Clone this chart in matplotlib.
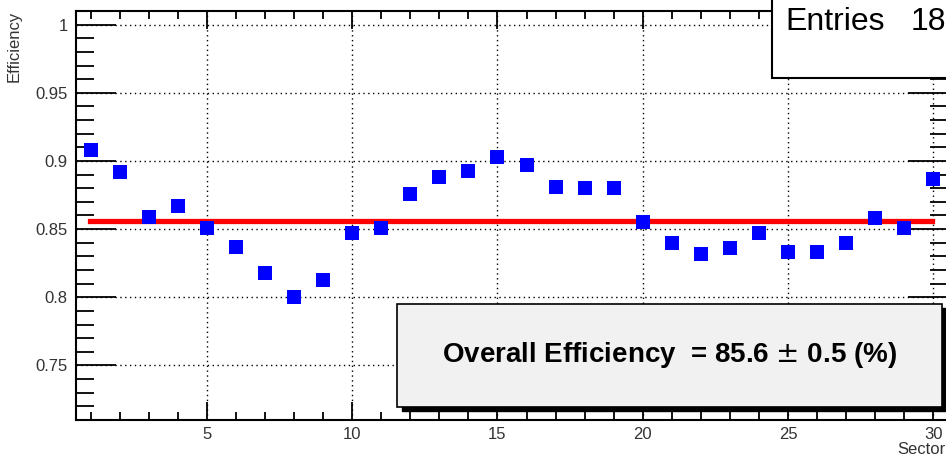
import numpy as np
import matplotlib.pyplot as plt
from matplotlib.patches import Rectangle
from matplotlib.ticker import MultipleLocator

plt.rcParams['font.family'] = ['Liberation Sans', 'DejaVu Sans']

# efficiency per sector
sectors = np.arange(1, 31)
efficiency = [0.908, 0.892, 0.859, 0.867, 0.851, 0.837, 0.818, 0.800, 0.813, 0.847,
              0.851, 0.876, 0.888, 0.893, 0.903, 0.897, 0.881, 0.880, 0.880, 0.855,
              0.840, 0.832, 0.836, 0.847, 0.833, 0.833, 0.840, 0.858, 0.851, 0.887]
overall = 85.6
overall_err = 0.5
fit_range = [0.98, 29.95]

fig = plt.figure(figsize=(9.46, 4.59), dpi=100)
ax = fig.add_axes([76 / 946, 39 / 459, 872 / 946, 409 / 459])

ax.set_xlim(0.5, 30.5)
ax.set_ylim(0.71, 1.01)

ax.grid(True, which='major', color='black', linestyle=(0, (1, 2.5)), linewidth=1.0)
ax.set_axisbelow(True)

ax.plot(fit_range, [overall / 100] * 2, color='red', linewidth=3.8, zorder=3)
ax.plot(sectors, efficiency, linestyle='none', marker='s', markersize=9.5,
        color='blue', markeredgewidth=0, zorder=4)

ax.xaxis.set_major_locator(MultipleLocator(5))
ax.xaxis.set_minor_locator(MultipleLocator(1))
ax.yaxis.set_minor_locator(MultipleLocator(0.01))
ax.set_yticks([0.75, 0.8, 0.85, 0.9, 0.95, 1.0])
ax.set_yticklabels(['0.75', '0.8', '0.85', '0.9', '0.95', '1'])

ax.tick_params(axis='both', which='both', direction='in', top=True, right=True,
               colors='black', labelsize=12, width=1.3)
ax.tick_params(axis='both', which='major', labelcolor='#333333')
ax.tick_params(axis='x', which='major', length=13, pad=5)
ax.tick_params(axis='x', which='minor', length=6)
ax.tick_params(axis='y', which='major', length=29, pad=6)
ax.tick_params(axis='y', which='minor', length=13)
for s in ax.spines.values():
    s.set_linewidth(1.5)

# axis titles, ROOT style (aligned to the axis ends)
fig.text(14 / 946, 1 - 46 / 459, 'Efficiency', rotation=90, ha='center', va='center',
         fontsize=12, color='#333333')
fig.text(946 / 946, 1 - 449 / 459, 'Sector', ha='right', va='center', fontsize=12,
         color='#333333')

# overall efficiency box with shadow
bx0, by0, bw, bh = 397 / 946, 52 / 459, 545 / 946, 103 / 459
dx, dy = 5 / 946, 4 / 459
fig.patches.append(Rectangle((bx0 + dx, by0 - dy), bw, bh, transform=fig.transFigure,
                             facecolor='black', edgecolor='black', zorder=5))
fig.patches.append(Rectangle((bx0, by0), bw, bh, transform=fig.transFigure,
                             facecolor='#f1f1f1', edgecolor='black', linewidth=1.2, zorder=6))
fig.text(bx0 + bw / 2, by0 + bh / 2,
         'Overall Efficiency  = %.1f $\\pm$ %.1f (%%)' % (overall, overall_err),
         ha='center', va='center', fontsize=20, fontweight='bold', zorder=7)

# stats box in the top right corner
fig.patches.append(Rectangle((772 / 946, 1 - 78 / 459), 200 / 946, 90 / 459,
                             transform=fig.transFigure, facecolor='white',
                             edgecolor='black', linewidth=1.5, zorder=5))
fig.text(785 / 946, 1 - 30 / 459, 'Entries', ha='left', va='baseline',
         fontsize=23, zorder=7)
fig.text(946 / 946, 1 - 30 / 459, '18', ha='right', va='baseline',
         fontsize=23, zorder=7)

fig.savefig('out.png', dpi=100)
